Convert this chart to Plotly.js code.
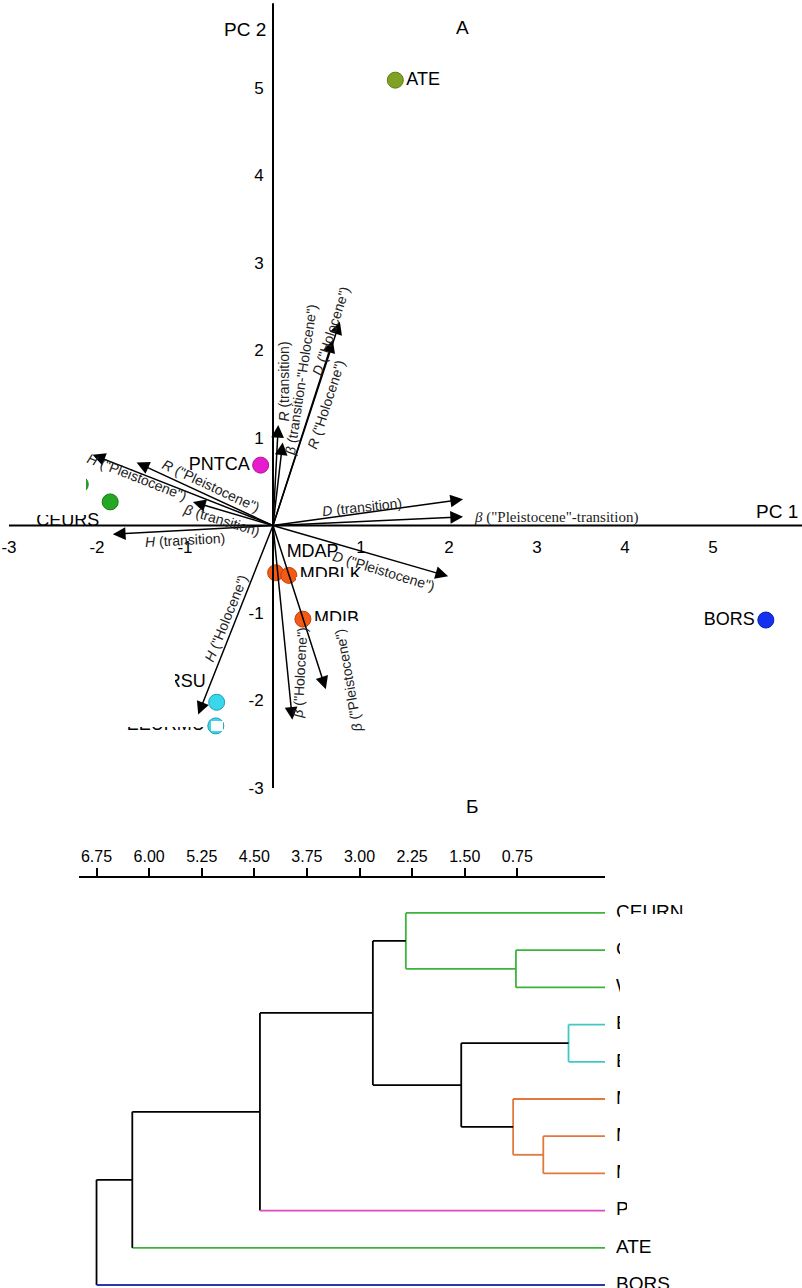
<!DOCTYPE html>
<html>
<head>
<meta charset="utf-8">
<script src="https://cdn.plot.ly/plotly-3.0.1.min.js"></script>
<style>html,body{margin:0;padding:0;background:#fff;}#chart{width:802px;height:1288px;}</style>
</head>
<body>
<div id="chart"></div>
<script>
// ---------- PCA (panel A) data ----------
const sites = ['ATE','PNTCA','CEURS','CEURN','WEUR','ERSU','EEURMU','MDAP','MDBLK','MDIB','BORS'];
const pc1 = [1.39, -0.14, -1.85, -2.19, -2.55, -0.64, -0.65, 0.03, 0.18, 0.34, 5.60];
const pc2 = [5.09, 0.69, 0.27, 0.47, 0.62, -2.02, -2.29, -0.54, -0.57, -1.07, -1.08];

// loadings (arrows)
const varLabels = [
  '<i>H</i> ("Pleistocene")', '<i>R</i> ("Pleistocene")', '<i>β</i> (transition)', '<i>H</i> (transition)',
  '<i>R</i> (transition)', '<i>β</i> (transition-"Holocene")', '<i>D</i> ("Holocene")', '<i>R</i> ("Holocene")',
  '<i>D</i> (transition)', '<i>β</i> ("Pleistocene"-transition)', '<i>D</i> ("Pleistocene")',
  '<i>H</i> ("Holocene")', '<i>β</i> ("Holocene")', '<i>β</i> ("Pleistocene")'
];
const loadPC1 = [-2.05, -1.55, -0.91, -1.82, 0.06, 0.11, 0.76, 0.68, 2.16, 2.16, 1.99, -0.85, 0.22, 0.60];
const loadPC2 = [0.81, 0.72, 0.27, -0.10, 1.15, 0.95, 2.33, 2.12, 0.30, 0.10, -0.58, -2.16, -2.22, -1.87];

const pcaTicksX = [-3, -2, -1, 1, 2, 3, 4, 5];
const pcaTicksY = [5, 4, 3, 2, 1, -1, -2, -3];

// ---------- Dendrogram (panel Б) data ----------
const leaves = ['CEURN','CEURS','WEUR','ERSU','EEURMU','MDAP','MDBLK','MDIB','PNTCA','ATE','BORS'];
const mergeA = [1, 3, 6, 5, 0, 12, 15, 17, 18, 19];
const mergeB = [2, 4, 7, 13, 11, 14, 16, 8, 9, 10];
const mergeH = [0.77, 0.02, 0.38, 0.81, 2.34, 1.55, 2.81, 4.42, 6.24, 6.75];
const distTicks = [6.75, 6.00, 5.25, 4.50, 3.75, 3.00, 2.25, 1.50, 0.75];

// ---------- styles (not data) ----------
const siteColor = ['#80a224','#e61ccc','#24a824','#24a824','#24a824','#3ad6ec','#3ad6ec','#f25a16','#f25a16','#f25a16','#1232f0'];
const siteEdge  = ['#5d7a14','#b0109a','#167a16','#167a16','#167a16','#1ca0b4','#1ca0b4','#c04008','#c04008','#c04008','#0a1fb0'];
const siteTextPos = ['middle right','middle left','bottom left','middle left','middle left','top left','middle left','top right','middle right','middle right','middle left'];
const siteLabelShown = [true, true, true, false, false, true, true, true, true, true, true];
const leafColor = ['#3cb43c','#3cb43c','#3cb43c','#40c8c8','#40c8c8','#e2783c','#e2783c','#e2783c','#e04ac0','#3cb43c','#2a38b0'];
const nodeColor = ['#3cb43c','#40c8c8','#e2783c','#e2783c','#3cb43c','#000','#000','#000','#000','#000'];
const leafEnd = -0.5;
// label placement for loadings: [pc1, pc2, angle]
const varLabelPos = [
  [-1.545, 0.55, 21.5], [-0.70, 0.45, 25], [-0.58, 0.06, 17], [-1.0, -0.17, -3],
  [0.12, 1.64, -90], [0.32, 1.66, -81.5], [0.66, 2.22, -72], [0.60, 1.38, -72],
  [1.01, 0.21, -6], [3.22, 0.09, 0], [1.26, -0.52, 17],
  [-0.53, -1.06, -68], [0.31, -1.69, -87], [0.86, -1.77, -100]
];

const W = 802, H = 1288;
const FONT = 'Liberation Sans, Arial, sans-serif';

const traces = [];
// PCA points
traces.push({
  type: 'scatter', mode: 'markers+text', xaxis: 'x', yaxis: 'y',
  x: pc1, y: pc2, text: sites.map((s, i) => siteLabelShown[i] ? s : ''), textposition: siteTextPos,
  textfont: {family: FONT, size: 18, color: '#000'},
  marker: {size: 16, color: siteColor, line: {color: siteEdge, width: 1}},
  hoverinfo: 'skip', showlegend: false
});

// Dendrogram segments
const nLeaves = leaves.length;
const nodeY = [], nodeH = [];
for (let i = 0; i < nLeaves; i++) { nodeY.push(i); nodeH.push(leafEnd); }
const segs = {};
function addSeg(color, x0, y0, x1, y1) {
  if (!segs[color]) segs[color] = {x: [], y: []};
  segs[color].x.push(x0, x1, null);
  segs[color].y.push(y0, y1, null);
}
for (let k = 0; k < mergeA.length; k++) {
  const a = mergeA[k], b = mergeB[k], h = mergeH[k];
  const ya = nodeY[a], yb = nodeY[b];
  const col = nodeColor[k];
  addSeg(col, h, ya, h, yb);
  [a, b].forEach(c => {
    const cCol = c < nLeaves ? leafColor[c] : col;
    addSeg(cCol, h, nodeY[c], nodeH[c], nodeY[c]);
  });
  nodeY.push((ya + yb) / 2);
  nodeH.push(h);
}
Object.keys(segs).forEach(col => {
  traces.push({
    type: 'scatter', mode: 'lines', xaxis: 'x2', yaxis: 'y2',
    x: segs[col].x, y: segs[col].y,
    line: {color: col, width: 1.8}, hoverinfo: 'skip', showlegend: false
  });
});
// leaf labels
traces.push({
  type: 'scatter', mode: 'markers+text', xaxis: 'x2', yaxis: 'y2',
  x: leaves.map(() => leafEnd), y: leaves.map((_, i) => i), text: leaves,
  textposition: 'middle right', cliponaxis: false,
  textfont: {family: FONT, size: 19, color: '#000'},
  marker: {size: 16, color: 'rgba(0,0,0,0)'}, hoverinfo: 'skip', showlegend: false
});

// annotations
const annotations = [];
for (let i = 0; i < varLabels.length; i++) {
  annotations.push({
    xref: 'x', yref: 'y', axref: 'x', ayref: 'y',
    x: loadPC1[i], y: loadPC2[i], ax: 0, ay: 0, text: '',
    showarrow: true, arrowhead: 2, arrowsize: 1.7, arrowwidth: 1.5, arrowcolor: '#000', standoff: 0, startstandoff: 0
  });
}
for (let i = 0; i < varLabels.length; i++) {
  const p = varLabelPos[i];
  const serif = i === 9;
  annotations.push({
    xref: 'x', yref: 'y', x: p[0], y: p[1], text: varLabels[i], showarrow: false,
    textangle: p[2],
    font: {family: serif ? 'Liberation Serif, Times New Roman, serif' : FONT, size: serif ? 15 : 14, color: '#222'}
  });
}
function px(x) { return x / W; }
function py(y) { return 1 - y / H; }
annotations.push({xref: 'paper', yref: 'paper', x: px(268), y: py(17), xanchor: 'right', text: 'PC 2', showarrow: false, font: {family: FONT, size: 19, color: '#000'}});
annotations.push({xref: 'paper', yref: 'paper', x: px(800), y: py(511), xanchor: 'right', text: 'PC 1', showarrow: false, font: {family: FONT, size: 19, color: '#000'}});
annotations.push({xref: 'paper', yref: 'paper', x: px(463), y: py(15), text: 'А', showarrow: false, font: {family: FONT, size: 19, color: '#000'}});
annotations.push({xref: 'paper', yref: 'paper', x: px(472), y: py(806), text: 'Б', showarrow: false, font: {family: FONT, size: 19, color: '#000'}});

// shapes: axes lines of biplot + masks
const shapes = [
  {type: 'line', xref: 'x', yref: 'y', x0: -3, y0: 0, x1: 6.02, y1: 0, line: {color: '#000', width: 2}},
  {type: 'line', xref: 'x', yref: 'y', x0: 0, y0: -3, x1: 0, y1: 5.97, line: {color: '#000', width: 2}}
];
function mask(x0, y0, x1, y1) {
  shapes.push({type: 'rect', xref: 'paper', yref: 'paper', layer: 'above',
    x0: px(x0), x1: px(x1), y0: py(y1), y1: py(y0), fillcolor: '#fff', line: {width: 0}});
}
mask(0, 440, 86, 515);
mask(100, 668, 175, 697);
mask(118, 714, 207, 727);
mask(211, 721, 223, 731);
mask(296, 577, 372, 592);
mask(312, 621, 372, 629);
mask(620, 914, 760, 1196);
mask(627, 1196, 760, 1216);

const layout = {
  width: W, height: H,
  margin: {l: 0, r: 0, t: 0, b: 0, pad: 0},
  paper_bgcolor: '#fff', plot_bgcolor: 'rgba(0,0,0,0)',
  showlegend: false,
  font: {family: FONT, color: '#000'},
  xaxis: {
    domain: [0, 1], range: [-3.102, 6.011], anchor: 'free', position: 1 - 525.5 / H,
    showgrid: false, zeroline: false, showline: false,
    tickmode: 'array', tickvals: pcaTicksX, ticktext: pcaTicksX.map(String),
    ticks: 'outside', ticklen: 6, tickcolor: 'rgba(0,0,0,0)',
    tickfont: {family: FONT, size: 17, color: '#000'}, fixedrange: true
  },
  yaxis: {
    domain: [1 - 800 / H, 1], range: [-3.137, 6.006], anchor: 'free', position: 273 / W,
    showgrid: false, zeroline: false, showline: false,
    tickmode: 'array', tickvals: pcaTicksY, ticktext: pcaTicksY.map(String),
    ticks: 'outside', ticklen: 6, tickcolor: 'rgba(0,0,0,0)',
    tickfont: {family: FONT, size: 17, color: '#000'}, fixedrange: true
  },
  xaxis2: {
    domain: [79 / W, 605 / W], range: [7.0, -0.5], anchor: 'y2', side: 'top',
    showgrid: false, zeroline: false, showline: true, linecolor: '#000', linewidth: 2,
    tickmode: 'array', tickvals: distTicks, ticktext: distTicks.map(v => v.toFixed(2)),
    ticks: 'outside', ticklen: 8, tickwidth: 2, tickcolor: '#000',
    tickfont: {family: FONT, size: 16, color: '#000'}, fixedrange: true
  },
  yaxis2: {
    domain: [0, 1 - 878 / H], range: [10.08, -0.94], visible: false, fixedrange: true
  },
  annotations: annotations,
  shapes: shapes
};

Plotly.newPlot('chart', traces, layout, {displayModeBar: false, staticPlot: true});
</script>
</body>
</html>
